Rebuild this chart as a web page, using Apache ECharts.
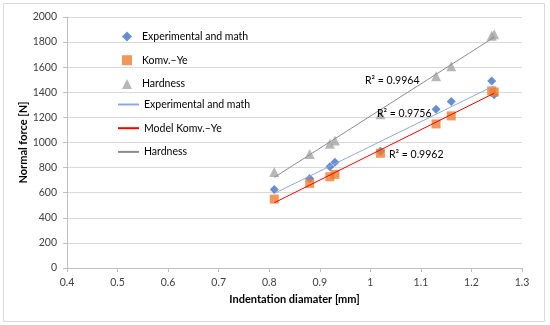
<!DOCTYPE html>
<html>
<head>
<meta charset="utf-8">
<script src="https://cdn.jsdelivr.net/npm/echarts@6/dist/echarts.min.js"></script>
<style>html,body{margin:0;padding:0;background:#fff}#c{width:550px;height:325px}</style>
</head>
<body>
<div id="c"></div>
<script>
// Indentation diameter [mm]
const diameters = [0.81, 0.88, 0.92, 0.93, 1.02, 1.13, 1.16, 1.24, 1.245];
// Normal force [N]
const experimental = [626, 714, 807, 842, 930, 1265, 1326, 1491, 1380];
const komvYe = [549, 674, 727, 746, 914, 1148, 1212, 1411, 1402];
const hardness = [765, 908, 990, 1015, 1225, 1528, 1608, 1850, 1862];
const rSquared = ['0.9964', '0.9756', '0.9962'];
const xTicks = {min: 0.4, max: 1.3, step: 0.1};
const yTicks = {min: 0, max: 2000, step: 200};

function pairs(xs, ys) { return xs.map((x, i) => [x, ys[i]]); }
function trend(xs, ys) {
  const n = xs.length;
  const mx = xs.reduce((a, b) => a + b, 0) / n;
  const my = ys.reduce((a, b) => a + b, 0) / n;
  let sxy = 0, sxx = 0;
  for (let i = 0; i < n; i++) { sxy += (xs[i] - mx) * (ys[i] - my); sxx += (xs[i] - mx) ** 2; }
  const b = sxy / sxx, a = my - b * mx;
  const x0 = Math.min(...xs), x1 = Math.max(...xs);
  return [[x0, a + b * x0], [x1, a + b * x1]];
}

const FONT = 'Lato';
const chart = echarts.init(document.getElementById('c'), null, {renderer: 'canvas'});
const SUF = ' (trend)';
const noMark = {color: 'rgba(0,0,0,0)', borderWidth: 0};
chart.setOption({
  animation: false,
  textStyle: {fontFamily: FONT},
  grid: {left: 67, right: 28, top: 17, bottom: 57},
  xAxis: {
    type: 'value', min: xTicks.min, max: xTicks.max, interval: xTicks.step,
    name: 'Indentation diamater [mm]', nameLocation: 'middle', nameGap: 26,
    nameTextStyle: {fontFamily: FONT, fontWeight: 'bold', fontSize: 11, color: '#000'},
    axisLine: {lineStyle: {color: '#bfbfbf'}},
    axisTick: {show: true, length: 4, lineStyle: {color: '#bfbfbf'}},
    axisLabel: {fontFamily: FONT, fontSize: 10.5, color: '#404040', margin: 9},
    splitLine: {show: false}
  },
  yAxis: {
    type: 'value', min: yTicks.min, max: yTicks.max, interval: yTicks.step,
    name: 'Normal force [N]', nameLocation: 'middle', nameGap: 38, nameRotate: 90,
    nameMoveOverlap: false,
    nameTextStyle: {fontFamily: FONT, fontWeight: 'bold', fontSize: 11, color: '#000'},
    axisLine: {show: true, lineStyle: {color: '#bfbfbf'}},
    axisTick: {show: true, length: 4, lineStyle: {color: '#bfbfbf'}},
    axisLabel: {fontFamily: FONT, fontSize: 10.5, color: '#404040', margin: 10, formatter: v => String(v)},
    splitLine: {lineStyle: {color: '#d9d9d9'}}
  },
  legend: [
    {
      orient: 'vertical', left: 122, top: 31, padding: 0, itemWidth: 10, itemHeight: 10, itemGap: 12.7,
      data: ['Experimental and math', 'Komv.\u2013Ye', 'Hardness'],
      textStyle: {fontFamily: FONT, fontSize: 10.5, color: '#000', padding: [0, 0, 0, 5]}
    },
    {
      orient: 'vertical', left: 117, top: 99, padding: 0, itemWidth: 21, itemHeight: 10, itemGap: 12.7,
      data: [
        {name: 'Experimental and math' + SUF, itemStyle: noMark},
        {name: 'Model Komv.\u2013Ye' + SUF, itemStyle: noMark},
        {name: 'Hardness' + SUF, itemStyle: noMark}
      ],
      formatter: n => n.replace(SUF, ''),
      textStyle: {fontFamily: FONT, fontSize: 10.5, color: '#000'}
    }
  ],
  series: [
    {name: 'Experimental and math', type: 'scatter', symbol: 'diamond', symbolSize: 9,
     itemStyle: {color: '#4472c4'}, data: pairs(diameters, experimental), z: 3},
    {name: 'Komv.\u2013Ye', type: 'scatter', symbol: 'rect', symbolSize: 9,
     itemStyle: {color: '#ed7d31'}, data: pairs(diameters, komvYe), z: 4},
    {name: 'Hardness', type: 'scatter', symbol: 'triangle', symbolSize: 10,
     itemStyle: {color: '#a5a5a5'}, data: pairs(diameters, hardness), z: 3},
    {name: 'Experimental and math' + SUF, type: 'line', symbol: 'none', z: 5,
     itemStyle: {color: '#8eaadb'},
     lineStyle: {color: '#8eaadb', width: 1}, data: trend(diameters, experimental)},
    {name: 'Model Komv.\u2013Ye' + SUF, type: 'line', symbol: 'none', z: 5,
     itemStyle: {color: '#ff0000'},
     lineStyle: {color: '#ff0000', width: 1}, data: trend(diameters, komvYe)},
    {name: 'Hardness' + SUF, type: 'line', symbol: 'none', z: 5,
     itemStyle: {color: '#8c8c8c'},
     lineStyle: {color: '#8c8c8c', width: 1}, data: trend(diameters, hardness)}
  ],
  graphic: [
    {type: 'rect', shape: {x: 3.5, y: 3.5, width: 541, height: 318}, style: {fill: 'none', stroke: '#d9d9d9', lineWidth: 1}, z: -1},
    {type: 'text', left: 365, top: 75, z: 10, style: {text: 'R\u00b2 = ' + rSquared[0], font: '10.5px ' + FONT, fill: '#000'}},
    {type: 'text', left: 377, top: 108, z: 10, style: {text: 'R\u00b2 = ' + rSquared[1], font: '10.5px ' + FONT, fill: '#000'}},
    {type: 'text', left: 389, top: 149, z: 10, style: {text: 'R\u00b2 = ' + rSquared[2], font: '10.5px ' + FONT, fill: '#000'}}
  ]
});
</script>
</body>
</html>
